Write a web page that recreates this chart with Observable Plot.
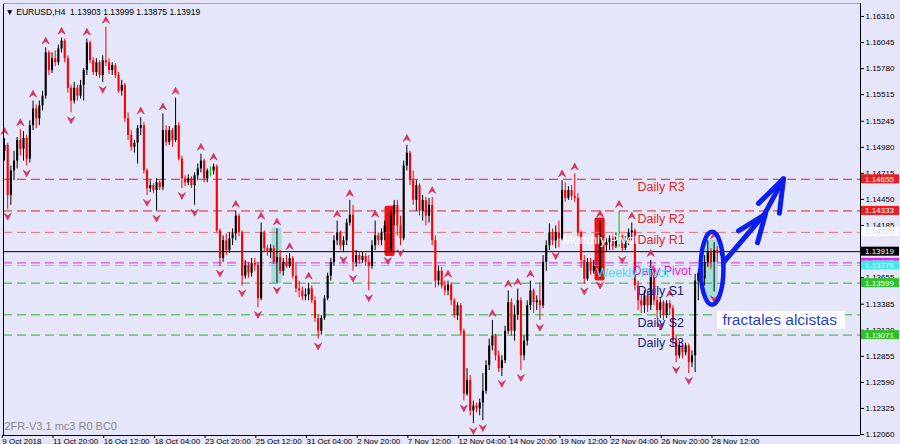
<!DOCTYPE html>
<html><head><meta charset="utf-8">
<script src="https://cdn.jsdelivr.net/npm/d3@7"></script>
<script src="https://cdn.jsdelivr.net/npm/@observablehq/plot@0.6"></script>
<style>
html,body{margin:0;padding:0;background:#e6e6fa;overflow:hidden}
svg{display:block}
</style></head><body><div id="chart"></div>
<script>
// ---- EURUSD H4 candles (bar index 0 = 9 Oct 2018) ----
const open = [1.1494,1.1500,1.1449,1.1474,1.1484,1.1505,1.1496,1.1507,1.1486,1.1520,
1.1537,1.1527,1.1540,1.1550,1.1594,1.1576,1.1588,1.1584,1.1598,1.1606,
1.1588,1.1558,1.1545,1.1558,1.1550,1.1561,1.1576,1.1604,1.1586,1.1574,
1.1584,1.1571,1.1586,1.1584,1.1576,1.1581,1.1571,1.1555,1.1561,1.1527,
1.1510,1.1498,1.1502,1.1517,1.1520,1.1474,1.1456,1.1459,1.1454,1.1462,
1.1457,1.1515,1.1503,1.1515,1.1505,1.1520,1.1486,1.1466,1.1462,1.1466,
1.1459,1.1469,1.1476,1.1484,1.1466,1.1474,1.1474,1.1478,1.1413,1.1385,
1.1403,1.1393,1.1405,1.1410,1.1428,1.1411,1.1367,1.1378,1.1370,1.1380,
1.1378,1.1344,1.1411,1.1395,1.1391,1.1395,1.1381,1.1386,1.1372,1.1381,
1.1377,1.1385,1.1367,1.1354,1.1352,1.1346,1.1348,1.1354,1.1342,1.1324,
1.1311,1.1324,1.1344,1.1367,1.1381,1.1403,1.1411,1.1398,1.1403,1.1421,
1.1429,1.1381,1.1388,1.1383,1.1387,1.1381,1.1377,1.1398,1.1408,1.1403,
1.1411,1.1418,1.1393,1.1429,1.1439,1.1418,1.1405,1.1479,1.1492,1.1464,
1.1444,1.1459,1.1433,1.1444,1.1428,1.1439,1.1403,1.1362,1.1372,1.1357,
1.1352,1.1358,1.1342,1.1327,1.1337,1.1311,1.1247,1.1261,1.1230,1.1235,
1.1232,1.1238,1.1250,1.1276,1.1296,1.1306,1.1286,1.1273,1.1281,1.1311,
1.1340,1.1311,1.1327,1.1342,1.1286,1.1301,1.1337,1.1352,1.1340,1.1342,
1.1337,1.1381,1.1398,1.1411,1.1403,1.1411,1.1405,1.1454,1.1446,1.1454,
1.1448,1.1446,1.1411,1.1383,1.1364,1.1381,1.1372,1.1377,1.1370,1.1408,
1.1398,1.1401,1.1405,1.1397,1.1407,1.1407,1.1395,1.1403,1.1411,1.1413,
1.1357,1.1342,1.1337,1.1347,1.1337,1.1374,1.1342,1.1332,1.1340,1.1327,
1.1339,1.1334,1.1301,1.1286,1.1296,1.1289,1.1296,1.1279,1.1286,1.1362,
1.1370,1.1364,1.1381,1.1391,1.1381,1.1393,1.13903];
const high = [1.1507,1.1502,1.1479,1.1494,1.1508,1.1516,1.1514,1.1510,1.1525,1.1545,
1.1541,1.1545,1.1555,1.1599,1.1596,1.1594,1.1596,1.1602,1.1609,1.1608,
1.1591,1.1561,1.1564,1.1561,1.1566,1.1578,1.1608,1.1606,1.1589,1.1588,
1.1586,1.1591,1.1620,1.1588,1.1584,1.1583,1.1574,1.1566,1.1563,1.1533,
1.1515,1.1505,1.1520,1.1528,1.1523,1.1476,1.1464,1.1461,1.1466,1.1464,
1.1532,1.1520,1.1519,1.1517,1.1548,1.1523,1.1489,1.1469,1.1470,1.1468,
1.1472,1.1481,1.1491,1.1486,1.1476,1.1478,1.1481,1.1480,1.1415,1.1408,
1.1410,1.1411,1.1415,1.1433,1.1430,1.1413,1.1383,1.1381,1.1385,1.1385,
1.1381,1.1421,1.1413,1.1398,1.1399,1.1398,1.1415,1.1393,1.1385,1.1388,
1.1390,1.1387,1.1381,1.1362,1.1356,1.1354,1.1360,1.1357,1.1346,1.1327,
1.1327,1.1347,1.1370,1.1385,1.1408,1.1423,1.1413,1.1407,1.1425,1.1444,
1.1439,1.1393,1.1391,1.1391,1.1390,1.1388,1.1403,1.1423,1.1411,1.1415,
1.1423,1.1436,1.1434,1.1444,1.1444,1.1428,1.1484,1.1500,1.1494,1.1474,
1.1464,1.1461,1.1449,1.1447,1.1446,1.1447,1.1408,1.1377,1.1376,1.1362,
1.1362,1.1360,1.1344,1.1340,1.1339,1.1313,1.1273,1.1266,1.1240,1.1238,
1.1242,1.1268,1.1281,1.1303,1.1322,1.1308,1.1291,1.1286,1.1316,1.1352,
1.1344,1.1337,1.1354,1.1345,1.1306,1.1342,1.1362,1.1354,1.1347,1.1360,
1.1388,1.1403,1.1420,1.1415,1.1418,1.1423,1.1464,1.1462,1.1458,1.1459,
1.1471,1.1451,1.1413,1.1388,1.1385,1.1385,1.1383,1.1381,1.1423,1.1413,
1.1405,1.1408,1.1409,1.1411,1.1433,1.1409,1.1407,1.1415,1.1421,1.1415,
1.1362,1.1347,1.1352,1.1352,1.1383,1.1377,1.1347,1.1344,1.1342,1.1342,
1.1342,1.1337,1.1306,1.1301,1.1298,1.1299,1.1298,1.1291,1.1369,1.1374,
1.1377,1.1388,1.1403,1.1395,1.1401,1.1397,1.13999];
const low = [1.1484,1.1435,1.1439,1.1464,1.1476,1.1489,1.1484,1.1479,1.1482,1.1515,
1.1517,1.1520,1.1535,1.1547,1.1571,1.1573,1.1580,1.1581,1.1594,1.1584,
1.1553,1.1533,1.1542,1.1545,1.1547,1.1545,1.1571,1.1583,1.1571,1.1570,
1.1568,1.1564,1.1580,1.1572,1.1571,1.1568,1.1553,1.1550,1.1523,1.1505,
1.1494,1.1492,1.1481,1.1510,1.1471,1.1449,1.1452,1.1451,1.1433,1.1454,
1.1454,1.1499,1.1500,1.1498,1.1503,1.1484,1.1456,1.1458,1.1459,1.1456,
1.1439,1.1464,1.1472,1.1462,1.1462,1.1468,1.1470,1.1411,1.1377,1.1381,
1.1388,1.1390,1.1398,1.1403,1.1407,1.1357,1.1364,1.1365,1.1366,1.1372,
1.1335,1.1342,1.1391,1.1387,1.1385,1.1379,1.1360,1.1369,1.1367,1.1375,
1.1375,1.1364,1.1350,1.1345,1.1342,1.1342,1.1342,1.1339,1.1320,1.1303,
1.1307,1.1322,1.1342,1.1362,1.1377,1.1398,1.1393,1.1391,1.1398,1.1418,
1.1372,1.1376,1.1379,1.1380,1.1377,1.1352,1.1374,1.1393,1.1398,1.1398,
1.1403,1.1390,1.1391,1.1418,1.1408,1.1398,1.1403,1.1474,1.1459,1.1439,
1.1433,1.1428,1.1423,1.1418,1.1421,1.1398,1.1355,1.1357,1.1354,1.1347,
1.1347,1.1337,1.1324,1.1322,1.1306,1.1240,1.1245,1.1225,1.1217,1.1228,
1.1225,1.1220,1.1247,1.1271,1.1291,1.1281,1.1269,1.1265,1.1278,1.1308,
1.1306,1.1301,1.1322,1.1271,1.1281,1.1296,1.1332,1.1329,1.1332,1.1322,
1.1334,1.1372,1.1393,1.1398,1.1395,1.1396,1.1403,1.1442,1.1444,1.1444,
1.1442,1.1407,1.1375,1.1359,1.1362,1.1368,1.1369,1.1366,1.1365,1.1393,
1.1391,1.1393,1.1393,1.1395,1.1396,1.1391,1.1393,1.1398,1.1403,1.1352,
1.1332,1.1329,1.1329,1.1330,1.1332,1.1337,1.1324,1.1324,1.1322,1.1324,
1.1327,1.1296,1.1279,1.1283,1.1283,1.1286,1.1268,1.1274,1.1269,1.1342,
1.1352,1.1357,1.1376,1.1374,1.1351,1.1381,1.13875];
const close = [1.1500,1.1449,1.1474,1.1484,1.1505,1.1496,1.1507,1.1486,1.1520,1.1537,
1.1527,1.1540,1.1550,1.1594,1.1576,1.1588,1.1584,1.1598,1.1606,1.1588,
1.1558,1.1545,1.1558,1.1550,1.1561,1.1576,1.1604,1.1586,1.1574,1.1584,
1.1571,1.1586,1.1584,1.1576,1.1581,1.1571,1.1555,1.1561,1.1527,1.1510,
1.1498,1.1502,1.1517,1.1520,1.1474,1.1456,1.1459,1.1454,1.1462,1.1457,
1.1515,1.1503,1.1515,1.1505,1.1520,1.1486,1.1466,1.1462,1.1466,1.1459,
1.1469,1.1476,1.1484,1.1466,1.1474,1.1474,1.1478,1.1413,1.1385,1.1403,
1.1393,1.1405,1.1410,1.1428,1.1411,1.1367,1.1378,1.1370,1.1380,1.1378,
1.1344,1.1411,1.1395,1.1391,1.1395,1.1381,1.1386,1.1372,1.1381,1.1377,
1.1385,1.1367,1.1354,1.1352,1.1346,1.1348,1.1354,1.1342,1.1324,1.1311,
1.1324,1.1344,1.1367,1.1381,1.1403,1.1411,1.1398,1.1403,1.1421,1.1429,
1.1381,1.1388,1.1383,1.1387,1.1381,1.1377,1.1398,1.1408,1.1403,1.1411,
1.1418,1.1393,1.1429,1.1439,1.1418,1.1405,1.1479,1.1492,1.1464,1.1444,
1.1459,1.1433,1.1444,1.1428,1.1439,1.1403,1.1362,1.1372,1.1357,1.1352,
1.1358,1.1342,1.1327,1.1337,1.1311,1.1247,1.1261,1.1230,1.1235,1.1232,
1.1238,1.1250,1.1276,1.1296,1.1306,1.1286,1.1273,1.1281,1.1311,1.1340,
1.1311,1.1327,1.1342,1.1286,1.1301,1.1337,1.1352,1.1340,1.1342,1.1337,
1.1381,1.1398,1.1411,1.1403,1.1411,1.1405,1.1454,1.1446,1.1454,1.1448,
1.1446,1.1411,1.1383,1.1364,1.1381,1.1372,1.1377,1.1370,1.1408,1.1398,
1.1401,1.1405,1.1397,1.1407,1.1407,1.1395,1.1403,1.1411,1.1413,1.1357,
1.1342,1.1337,1.1347,1.1337,1.1374,1.1342,1.1332,1.1340,1.1327,1.1339,
1.1334,1.1301,1.1286,1.1296,1.1289,1.1296,1.1279,1.1286,1.1362,1.1370,
1.1364,1.1381,1.1391,1.1381,1.1393,1.1390,1.13919];

// Bill Williams fractals (bar indices)
const upFractals = [0,5,9,13,18,26,32,43,50,54,62,66,73,81,86,90,96,105,109,117,127,135,140,154,159,162,166,176,180,188,194,198,204,210,224];
const downFractals = [1,7,21,31,45,48,56,60,68,75,80,86,99,107,110,115,121,125,145,148,151,157,163,169,174,183,188,195,207,212,216,224];

// Pivot levels
const levelNames  = ["Daily R3","Daily R2","Daily R1","Monthly Pivot","Daily Pivot","Weekly Pivot","Daily S1","Daily S2","Daily S3"];
const levelValues = [1.14655,1.14333,1.14115,1.14120,1.13805,1.13779,1.13599,1.13277,1.13071];
const levelLineColors  = ["#d42424","#d42424","#f07070",null,"#e020e0","#44e0ec","#2fb02f","#2fb02f","#2fb02f"];
const levelLabelColors = ["#e02828","#e02828","#e02828","#ffffff","#e020e0","#3ae6f2","#16167e","#16167e","#16167e"];
const levelLabelBars   = [199.8,199.8,199.8,176.1,198.2,186.9,199.8,199.8,199.8];

// Right-axis price boxes
const boxValues = [1.14655,1.14333,1.14120,1.13919,1.13805,1.13779,1.13599,1.13071];
const boxFills  = ["#ee1c1c","#ee1c1c","#ffffff","#000000","#e81ee8","#44e4ee","#2fbf2f","#2fbf2f"];
const boxInks   = ["#ffffff","#ffffff","#d8d8e8","#ffffff","#ffffff","#ffffff","#ffffff","#ffffff"];

// Highlight rectangles (bar range, price range)
const hlStart  = [84.4,120.1,186.4,221.5];
const hlEnd    = [87.6,123.3,189.6,225.3];
const hlTop    = [1.1416,1.1438,1.1426,1.1404];
const hlBottom = [1.1359,1.1387,1.1362,1.1342];
const hlFill   = ["#a4dcdc","#ee1414","#ee1414","#a4dcdc"];

// Hand-drawn annotation: ellipse + arrow
const ellipseBar = 223.5, ellipsePrice = 1.13745, ellipseHalfBars = 3.6, ellipseHalfPrice = 0.00371;
const arrowBars   = [226.96,239.9,245.9];
const arrowPrices = [1.1381,1.1430,1.1466];
const head1Bars   = [231.7,240.2,237.7];
const head1Prices = [1.1413,1.1430,1.1401];
const head2Bars   = [238.0,245.9,244.6];
const head2Prices = [1.1441,1.1466,1.1431];
const noteText = "fractales alcistas";
const noteBox = {x1: 225.1, x2: 265.5, y1: 1.1313, y2: 1.1331, x: 226.6, y: 1.1322};

// Axes
const yTicks = [1.16310,1.16045,1.15780,1.15515,1.15245,1.14980,1.14715,1.14450,1.14185,1.13920,1.13655,1.13385,1.13120,1.12855,1.12590,1.12325,1.12060];
const xTickBars = [-1,15,31,47,63,79,95,111,127,143,159,175,191,207,223];
const xTickLabels = ["9 Oct 2018","11 Oct 20:00","16 Oct 12:00","18 Oct 04:00","23 Oct 20:00","25 Oct 12:00","31 Oct 04:00","2 Nov 20:00","7 Nov 12:00","12 Nov 04:00","14 Nov 20:00","19 Nov 12:00","22 Nov 04:00","26 Nov 20:00","28 Nov 12:00"];
const symbolName = "EURUSD", timeframe = "H4";
const indicatorText = "2FR-V3.1 mc3 R0 BC0";

// ---- build ----
const n = close.length;
const bars = d3.range(n).map(i => ({i, o: open[i], h: high[i], l: low[i], c: close[i]}));
const candleColor = d => d.c > d.o ? "#000000" : d.c < d.o ? "#ff0000" : "#00c000";
const levels = levelNames.map((name, k) => ({name, v: levelValues[k], stroke: levelLineColors[k], fill: levelLabelColors[k], bar: levelLabelBars[k]}));
const highlights = hlStart.map((s, k) => ({x1: s, x2: hlEnd[k], y1: hlBottom[k], y2: hlTop[k], fill: hlFill[k]}));
const pts = (bs, ps) => bs.map((b, k) => ({b, p: ps[k]}));
const f5 = d3.format(".5f");
const last = n - 1;
const header = `\u25BC ${symbolName},${timeframe}  ${f5(open[last])} ${f5(high[last])} ${f5(low[last])} ${f5(close[last])}`;

const arrowUp = {draw(ctx, size) { const s = Math.sqrt(size / Math.PI);
  ctx.moveTo(0, -s); ctx.lineTo(s * 0.95, s * 0.8); ctx.lineTo(0, s * 0.15); ctx.lineTo(-s * 0.95, s * 0.8); ctx.closePath(); }};
const arrowDown = {draw(ctx, size) { const s = Math.sqrt(size / Math.PI);
  ctx.moveTo(0, s); ctx.lineTo(s * 0.95, -s * 0.8); ctx.lineTo(0, -s * 0.15); ctx.lineTo(-s * 0.95, -s * 0.8); ctx.closePath(); }};

const xDomain = [-0.32, 270.2];
const yDomain = [1.12050, 1.16442];

function ellipseMark(index, scales) {
  const cx = scales.x(ellipseBar), cy = scales.y(ellipsePrice);
  const rx = scales.x(ellipseBar + ellipseHalfBars) - cx;
  const ry = scales.y(ellipsePrice - ellipseHalfPrice) - cy;
  const g = d3.create("svg:g");
  g.append("ellipse").attr("cx", cx).attr("cy", cy).attr("rx", rx).attr("ry", ry)
    .attr("fill", "none").attr("stroke", "#0a1ef0").attr("stroke-width", 4.5);
  return g.node();
}
function priceBoxes(index, scales, values, dims) {
  const g = d3.create("svg:g").attr("text-anchor", "start");
  const x0 = dims.width - dims.marginRight + 1;
  boxValues.forEach((v, k) => {
    const y = scales.y(v);
    g.append("rect").attr("x", x0).attr("y", y - 4.5).attr("width", 38).attr("height", 9).attr("fill", boxFills[k]);
    g.append("text").attr("x", x0 + 4).attr("y", y + 3).attr("fill", boxInks[k]).attr("text-anchor", "start")
      .attr("font-size", 8).attr("font-family", "'Liberation Sans', Arial, sans-serif").text(f5(v));
  });
  return g.node();
}

const chart = Plot.plot({
  width: 900, height: 444,
  marginTop: 3, marginBottom: 9, marginLeft: 3, marginRight: 40,
  style: {background: "#e6e6fa", fontFamily: "'Liberation Sans', Arial, sans-serif", fontSize: "8px", color: "#000"},
  x: {domain: xDomain, axis: null},
  y: {domain: yDomain, axis: null},
  marks: [
    Plot.rect(highlights, {x1: "x1", x2: "x2", y1: "y1", y2: "y2", fill: "fill", rx: 2}),
    Plot.ruleY(levels.filter(d => d.stroke), {y: "v", stroke: "stroke", strokeWidth: 1, strokeDasharray: "9,5"}),
    Plot.ruleY([close[last]], {stroke: "#000", strokeWidth: 1}),
    Plot.ruleX(bars, {x: "i", y1: "l", y2: "h", stroke: candleColor, strokeWidth: 1}),
    Plot.ruleX(bars.filter(d => d.o !== d.c), {x: "i", y1: "o", y2: "c", stroke: candleColor, strokeWidth: 2.1}),
    Plot.dot(upFractals, {x: d => d, y: d => high[d], symbol: arrowUp, r: 3.8, fill: "#e43462", stroke: "#b8143e", strokeWidth: 0.5, dy: -7}),
    Plot.dot(downFractals, {x: d => d, y: d => low[d], symbol: arrowDown, r: 3.8, fill: "#e43462", stroke: "#b8143e", strokeWidth: 0.5, dy: 7}),
    Plot.text(levels, {x: "bar", y: "v", text: "name", fill: "fill", textAnchor: "start", lineAnchor: "bottom", dy: 12, fontSize: 12.5}),
    ellipseMark,
    Plot.line(pts(arrowBars, arrowPrices), {x: "b", y: "p", stroke: "#0a1ef0", strokeWidth: 5, strokeLinecap: "round", strokeLinejoin: "round"}),
    Plot.line(pts(head1Bars, head1Prices), {x: "b", y: "p", stroke: "#0a1ef0", strokeWidth: 5, strokeLinecap: "round", strokeLinejoin: "round"}),
    Plot.line(pts(head2Bars, head2Prices), {x: "b", y: "p", stroke: "#0a1ef0", strokeWidth: 5, strokeLinecap: "round", strokeLinejoin: "round"}),
    Plot.rect([noteBox], {x1: "x1", x2: "x2", y1: "y1", y2: "y2", fill: "#ffffff"}),
    Plot.text([noteBox], {x: "x", y: "y", text: () => noteText, textAnchor: "start", lineAnchor: "middle", fill: "#1f3fd6", fontSize: 15.5}),
    Plot.ruleX([xDomain[0]], {stroke: "#000"}),
    Plot.ruleX([xDomain[1]], {stroke: "#000"}),
    Plot.ruleY([yDomain[0]], {stroke: "#000"}),
    Plot.ruleY([yDomain[1]], {stroke: "#a0a0a8"}),
    Plot.axisY({anchor: "right", ticks: yTicks, tickFormat: f5, tickSize: 3, tickPadding: 2, fontSize: 8, label: null}),
    Plot.axisX({anchor: "bottom", ticks: xTickBars, tickFormat: d => xTickLabels[xTickBars.indexOf(d)], tickSize: 3, tickPadding: 0, textAnchor: "start", dx: 1, fontSize: 8, label: null}),
    priceBoxes,
    Plot.text([header], {frameAnchor: "top-left", textAnchor: "start", lineAnchor: "top", dx: 2, dy: 5, fontSize: 8.5, fill: "#000"}),
    Plot.text([indicatorText], {frameAnchor: "bottom-left", textAnchor: "start", lineAnchor: "bottom", dx: 1, dy: -6, fontSize: 11, fill: "#8a8a8a"})
  ]
});
document.getElementById("chart").appendChild(chart);
</script></body></html>
